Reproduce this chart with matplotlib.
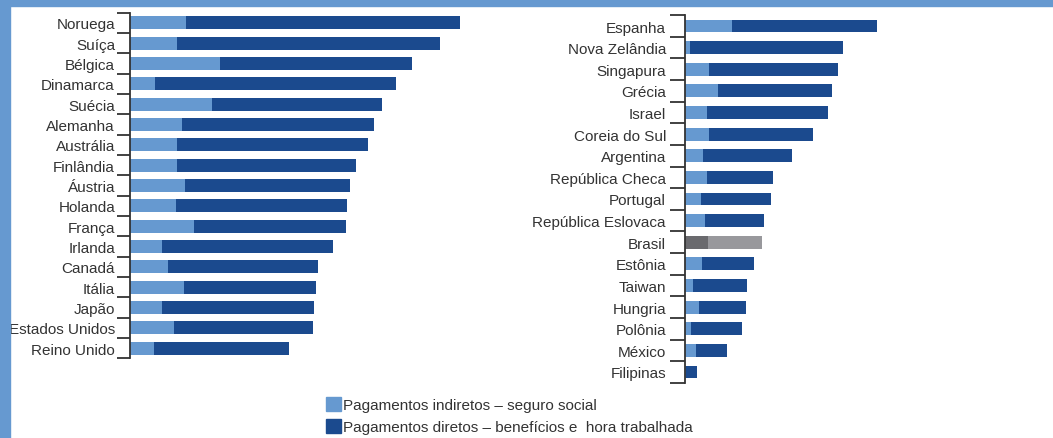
import matplotlib.pyplot as plt
from matplotlib.patches import Patch, Rectangle

# custo da hora trabalhada (US$) - 2011
paises_esq = ["Noruega", "Suíça", "Bélgica", "Dinamarca", "Suécia", "Alemanha",
              "Austrália", "Finlândia", "Áustria", "Holanda", "França", "Irlanda",
              "Canadá", "Itália", "Japão", "Estados Unidos", "Reino Unido"]
indireto_esq = [10.9, 9.1, 17.5, 4.9, 16.0, 10.1, 9.1, 9.1, 10.7, 8.9, 12.5, 6.2,
                7.4, 10.5, 6.2, 8.6, 4.7]
total_esq = [64.15, 60.40, 54.77, 51.67, 49.12, 47.38, 46.29, 44.0, 42.8, 42.26,
             42.12, 39.5, 36.56, 36.17, 35.71, 35.53, 30.9]

paises_dir = ["Espanha", "Nova Zelândia", "Singapura", "Grécia", "Israel",
              "Coreia do Sul", "Argentina", "República Checa", "Portugal",
              "República Eslovaca", "Brasil", "Estônia", "Taiwan", "Hungria",
              "Polônia", "México", "Filipinas"]
indireto_dir = [7.0, 0.7, 3.6, 4.9, 3.3, 3.6, 2.7, 3.3, 2.4, 3.0, 3.4, 2.5, 1.2,
                2.1, 0.9, 1.6, 0.15]
total_dir = [28.44, 23.38, 22.60, 21.8, 21.2, 19.0, 15.9, 13.0, 12.7, 11.7, 11.4,
             10.2, 9.2, 9.0, 8.4, 6.2, 1.8]

cor_ind = "#6699d0"
cor_dir = "#1b4a8e"
cor_br_ind = "#6a6a6e"
cor_br_dir = "#98989c"
cor_texto = "#333333"

plt.rcParams['font.family'] = ['Liberation Sans', 'DejaVu Sans']

W, H = 1053, 439
fig = plt.figure(figsize=(W / 100, H / 100), dpi=100)

# moldura azul
fig.patches.append(Rectangle((0, 1 - 7 / H), 1, 7 / H, transform=fig.transFigure,
                             color=cor_ind, zorder=0))
fig.patches.append(Rectangle((0, 0), 10 / W, 1, transform=fig.transFigure,
                             color=cor_ind, zorder=0))


def painel(rect, paises, indireto, total, xmax, altura, tick_px, pad_px):
    ax = fig.add_axes(rect)
    n = len(paises)
    pos = list(range(n))
    direto = [t - i for t, i in zip(total, indireto)]
    c1 = [cor_br_ind if p == "Brasil" else cor_ind for p in paises]
    c2 = [cor_br_dir if p == "Brasil" else cor_dir for p in paises]
    ax.barh(pos, indireto, height=altura, color=c1)
    ax.barh(pos, direto, left=indireto, height=altura, color=c2)
    ax.set_ylim(n - 0.5, -0.5)
    ax.set_xlim(0, xmax)
    ax.set_yticks(pos)
    ax.set_yticklabels(paises, fontsize=11, color=cor_texto)
    ax.set_yticks([p - 0.5 for p in range(n + 1)], minor=True)
    ax.tick_params(axis='y', which='major', length=0, pad=pad_px * 0.72)
    ax.tick_params(axis='y', which='minor', length=tick_px * 0.72, width=1.3,
                   color=cor_texto)
    ax.set_xticks([])
    for s in ["top", "right", "bottom"]:
        ax.spines[s].set_visible(False)
    ax.spines["left"].set_color(cor_texto)
    ax.spines["left"].set_linewidth(1.3)
    return ax


# painel esquerdo: 5.14 px por US$
painel([130 / W, 1 - 359.2 / H, 340 / W, 345.4 / H],
       paises_esq, indireto_esq, total_esq, 340 / 5.14, 0.64, 13, 15)
# painel direito: 6.75 px por US$
painel([685 / W, 1 - 383.8 / H, 340 / W, 367.6 / H],
       paises_dir, indireto_dir, total_dir, 340 / 6.75, 0.6, 15, 19)

handles = [Patch(color=cor_ind, label="Pagamentos indiretos – seguro social"),
           Patch(color=cor_dir, label="Pagamentos diretos – benefícios e  hora trabalhada")]
leg = fig.legend(handles=handles, loc="upper left",
                 bbox_to_anchor=(326 / W, 1 - 398 / H), frameon=False,
                 handlelength=1.0, handleheight=1.0, handletextpad=0.1,
                 labelspacing=0.45, borderpad=0, borderaxespad=0, fontsize=11)
for t in leg.get_texts():
    t.set_color(cor_texto)

fig.savefig("out.png", dpi=100)
